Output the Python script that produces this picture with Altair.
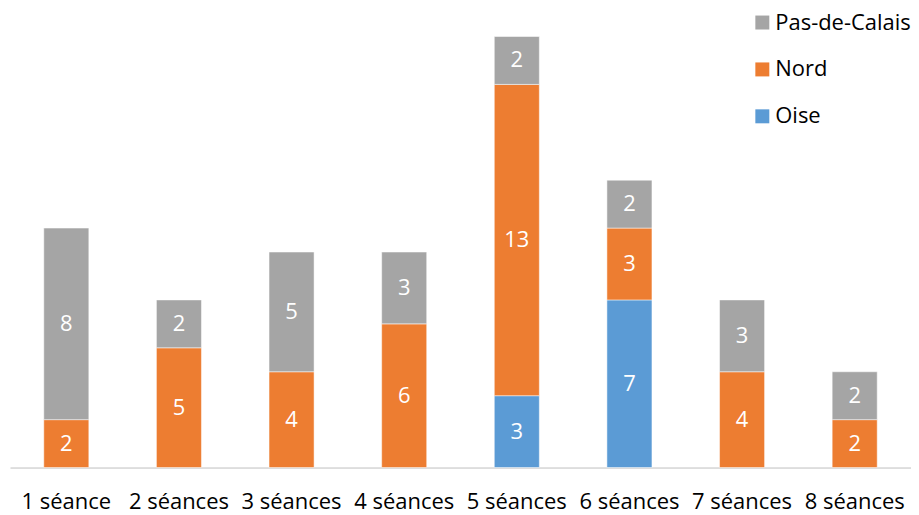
import altair as alt
import pandas as pd

categories = ["1 séance", "2 séances", "3 séances", "4 séances",
              "5 séances", "6 séances", "7 séances", "8 séances"]
oise = [0, 0, 0, 0, 3, 7, 0, 0]
nord = [2, 5, 4, 6, 13, 3, 4, 2]
pas_de_calais = [8, 2, 5, 3, 2, 2, 3, 2]

series = {"Oise": oise, "Nord": nord, "Pas-de-Calais": pas_de_calais}
order_map = {"Oise": 0, "Nord": 1, "Pas-de-Calais": 2}

rows = []
for name, vals in series.items():
    for c, v in zip(categories, vals):
        rows.append({"cat": c, "serie": name, "value": v, "ord": order_map[name]})
df = pd.DataFrame(rows)
df = df[df["value"] > 0]

FONT = "Open Sans"
FS = 22

color = alt.Color(
    "serie:N",
    scale=alt.Scale(domain=["Pas-de-Calais", "Nord", "Oise"],
                    range=["#A5A5A5", "#ED7D31", "#5B9BD5"]),
    legend=alt.Legend(
        title=None, orient="none", legendX=743, legendY=-25,
        symbolType="square", symbolSize=196, symbolStrokeWidth=0,
        labelFontSize=FS, labelFont=FONT, labelColor="#000000",
        rowPadding=25, labelOffset=2, padding=0, labelLimit=300,
    ),
)

x = alt.X("cat:N", sort=categories, title=None,
          scale=alt.Scale(paddingInner=0.6, paddingOuter=0.3),
          axis=alt.Axis(labelAngle=0, labelFontSize=FS, labelFont=FONT,
                        labelColor="#000000", ticks=False, domainColor="#BFBFBF",
                        domainWidth=1, labelPadding=24, grid=False, labelLimit=300))

base = alt.Chart(df).transform_stack(
    stack="value", groupby=["cat"], as_=["y0", "y1"],
    sort=[alt.SortField("ord", order="ascending")],
).transform_calculate(mid="(datum.y0 + datum.y1) / 2")

bars = base.mark_bar(stroke="white", strokeWidth=0.5).encode(
    x=x,
    y=alt.Y("y0:Q", scale=alt.Scale(domain=[0, 18], nice=False), axis=None),
    y2="y1:Q",
    color=color,
)

labels = base.mark_text(color="white", fontSize=FS, font=FONT, baseline="middle").encode(
    x=alt.X("cat:N", sort=categories),
    y=alt.Y("mid:Q"),
    text="value:Q",
)

chart = (bars + labels).properties(
    width=903, height=432,
    autosize=alt.AutoSizeParams(type="none"),
    padding={"left": 2, "top": 28, "right": 0, "bottom": 47},
).configure_view(stroke=None)

chart.save("out.html", embed_options={"renderer": "svg", "actions": False})
